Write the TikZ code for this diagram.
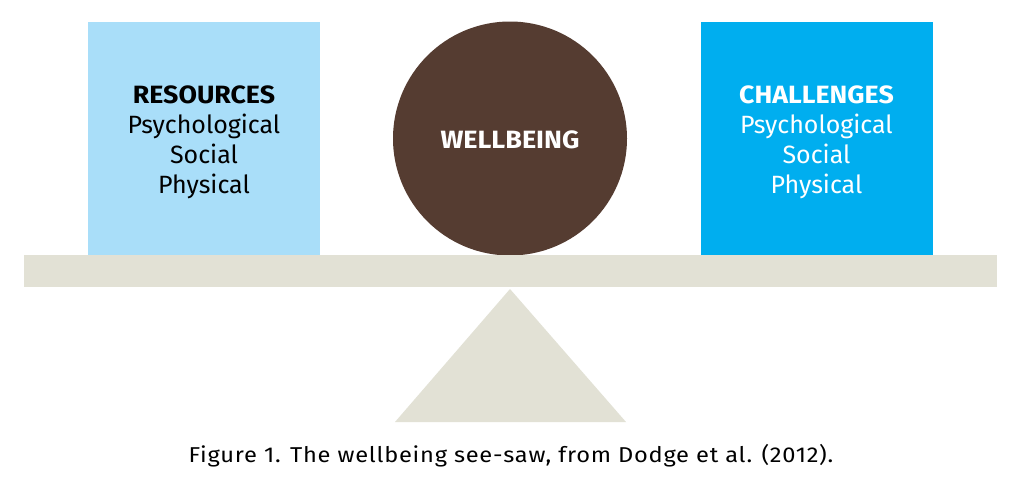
\documentclass[tikz,border=0pt]{standalone}
\usepackage{fontspec}
\setmainfont{Fira Sans}
\newfontfamily\headfont[FakeStretch=1.07]{Fira Sans}
\newfontfamily\wellfont[FakeStretch=1.08]{Fira Sans}
\newfontfamily\capfont[FakeStretch=1.1,LetterSpace=3.5]{Fira Sans}
\definecolor{resblue}{HTML}{A9DEF9}
\definecolor{chalblue}{HTML}{00AEEF}
\definecolor{wellbrown}{HTML}{553C31}
\definecolor{beamgrey}{HTML}{E2E1D5}
\tikzset{
  sqbox/.style={rectangle, inner sep=0pt, minimum width=232pt, minimum height=233pt, draw=none},
  head/.style={font=\headfont\fontsize{25}{28}\selectfont\bfseries, anchor=base, inner sep=0pt},
  item/.style={font=\fontsize{25}{28}\selectfont, anchor=base, inner sep=0pt},
}
\begin{document}
\begin{tikzpicture}[x=1pt,y=-1pt]
\useasboundingbox (0,0) rectangle (1021,488);
\fill[white] (0,0) rectangle (1021,488);
\node[sqbox, fill=resblue] (res) at (204,138.5) {};
\node[sqbox, fill=chalblue] (chal) at (816.5,138.5) {};
\node[circle, fill=wellbrown, minimum size=234pt, inner sep=0pt] (well) at (510,138.5) {};
\node[rectangle, fill=beamgrey, inner sep=0pt, minimum width=973pt, minimum height=32pt] (beam) at (510.5,271) {};
\coordinate (apex) at (510,289);
\coordinate (bl) at (395,422);
\coordinate (br) at (626,422);
\fill[beamgrey] (apex) -- (bl) -- (br) -- cycle;
\node[head] (reshead) at (204,103) {RESOURCES};
\node[item] (r1) at (204,133) {Psychological};
\node[item] (r2) at (204,163) {Social};
\node[item] (r3) at (204,193) {Physical};
\node[head, text=white] (chalhead) at (816.5,103) {CHALLENGES};
\node[item, text=white] (c1) at (816.5,133) {Psychological};
\node[item, text=white] (c2) at (816.5,163) {Social};
\node[item, text=white] (c3) at (816.5,193) {Physical};
\node[head, font=\wellfont\fontsize{25}{28}\selectfont\bfseries, text=white] (welltext) at (510,148) {WELLBEING};
\node[font=\capfont\fontsize{21.5}{25}\selectfont, anchor=base, inner sep=0pt] (cap) at (511,462) {Figure 1. The wellbeing see-saw, from Dodge et al. (2012).};
\end{tikzpicture}
\end{document}
